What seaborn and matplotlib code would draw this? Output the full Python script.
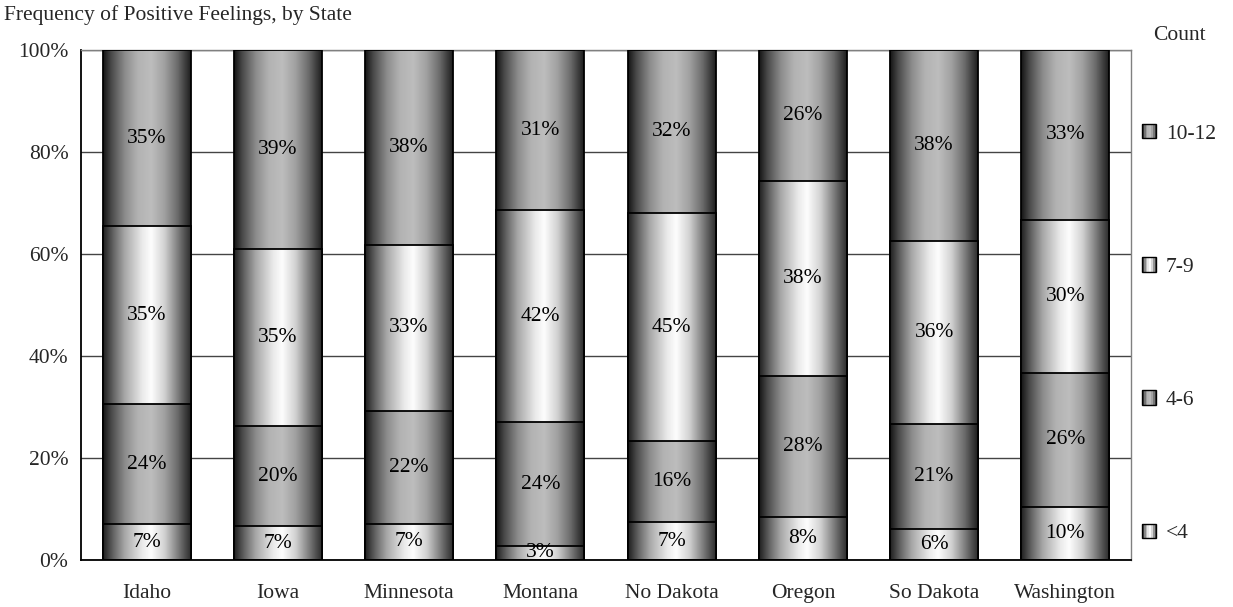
import numpy as np
import pandas as pd
import matplotlib
matplotlib.use("Agg")
import matplotlib.pyplot as plt
from matplotlib.patches import Rectangle, Patch
from matplotlib.legend_handler import HandlerBase
import seaborn as sns

# Share of respondents in each count band, per state (percent)
states = ["Idaho", "Iowa", "Minnesota", "Montana", "No Dakota", "Oregon", "So Dakota", "Washington"]
band_lt4 = [7.0, 6.6, 7.1, 2.8, 7.4, 8.4, 6.1, 10.4]
band_4_6 = [23.6, 19.7, 22.1, 24.2, 15.9, 27.7, 20.6, 26.3]
band_7_9 = [34.8, 34.6, 32.6, 41.6, 44.7, 38.2, 35.8, 30.0]
band_10_12 = [34.6, 39.1, 38.2, 31.4, 32.0, 25.7, 37.5, 33.3]
band_names = ["<4", "4-6", "7-9", "10-12"]
y_ticks = [0, 20, 40, 60, 80, 100]

bands = [band_lt4, band_4_6, band_7_9, band_10_12]

# Horizontal shading profiles (position across bar -> grey level)
DARK_X = [0.0, 0.1, 0.25, 0.4, 0.55, 0.7, 0.85, 0.95, 1.0]
DARK_V = [0.08, 0.3, 0.55, 0.7, 0.74, 0.63, 0.42, 0.22, 0.12]
LIGHT_X = [0.0, 0.12, 0.25, 0.45, 0.55, 0.7, 0.85, 0.95, 1.0]
LIGHT_V = [0.12, 0.4, 0.66, 0.92, 0.99, 0.82, 0.5, 0.28, 0.18]
profiles = [(LIGHT_X, LIGHT_V), (DARK_X, DARK_V), (LIGHT_X, LIGHT_V), (DARK_X, DARK_V)]

sns.set_style("white")
plt.rcParams["font.family"] = ["Liberation Serif", "DejaVu Serif"]
FS = 15.5

fig = plt.figure(figsize=(12.33, 6.07), dpi=100)
ax = fig.add_axes([81 / 1233, 47 / 607, 1050 / 1233, 510 / 607])

df = pd.DataFrame({"state": states})
cum = np.cumsum(np.array(bands), axis=0)

# Draw cumulative totals from the tallest down so each band shows as a segment
layers = []
for k in range(len(bands) - 1, -1, -1):
    df["total"] = cum[k]
    n0 = len(ax.patches)
    sns.barplot(data=df, x="state", y="total", order=states, color="0.5",
                width=0.67, ax=ax)
    layers.append((k, ax.patches[n0:]))

z = 3
for k, patches in layers:
    px, pv = profiles[k]
    grad = np.interp(np.linspace(0, 1, 256), px, pv)[None, :]
    for p in patches:
        x0, w, h = p.get_x(), p.get_width(), p.get_height()
        p.set_facecolor("none")
        p.set_edgecolor("black")
        p.set_linewidth(1.3)
        p.set_zorder(z + 1)
        im = ax.imshow(grad, extent=[x0, x0 + w, 0, h], aspect="auto",
                       cmap="gray", vmin=0, vmax=1, zorder=z,
                       interpolation="bilinear")
        im.set_clip_path(p)
    z += 2

# Segment labels
for i, st in enumerate(states):
    for k in range(len(bands)):
        lo = cum[k - 1][i] if k > 0 else 0.0
        hi = cum[k][i]
        ax.text(i, (lo + hi) / 2, f"{bands[k][i]:.0f}%", ha="center",
                va="center", fontsize=FS, color="black", zorder=20)

ax.set_xlim(-0.5, len(states) - 0.5)
ax.set_ylim(0, 100)
ax.set_aspect("auto")

# Axes styling
ax.set_yticks(y_ticks)
ax.set_yticklabels([f"{t}%" for t in y_ticks], fontsize=FS)
ax.yaxis.grid(True, color="#444444", linewidth=1.0, zorder=0)
ax.set_axisbelow(True)
ax.set_xticks(range(len(states)))
ax.set_xticklabels(states, fontsize=FS)
ax.set_xticks(np.arange(-0.5, len(states)), minor=True)
ax.tick_params(axis="x", which="major", length=0, pad=17)
ax.tick_params(axis="x", which="minor", length=7, width=1, color="black")
ax.tick_params(axis="y", length=6, width=1, color="black", pad=3)
ax.set_xlabel("")
ax.set_ylabel("")
for side in ["left", "bottom"]:
    ax.spines[side].set_color("black")
    ax.spines[side].set_linewidth(1.3)
ax.spines["right"].set_color("#808080")
ax.spines["top"].set_color("#808080")
ax.spines["right"].set_linewidth(1.0)
ax.spines["top"].set_linewidth(1.0)
ax.spines["bottom"].set_zorder(30)


class GradientSquare(HandlerBase):
    def __init__(self, px, pv):
        super().__init__()
        self.px, self.pv = px, pv

    def create_artists(self, legend, orig_handle, xdescent, ydescent,
                       width, height, fontsize, trans):
        n = 8
        side = height
        x0, y0 = -xdescent, -ydescent
        arts = []
        for j in range(n):
            g = float(np.interp((j + 0.5) / n, self.px, self.pv))
            arts.append(Rectangle((x0 + j * side / n, y0), side / n, side,
                                  facecolor=(g, g, g), edgecolor="none",
                                  transform=trans))
        arts.append(Rectangle((x0, y0), side, side, facecolor="none",
                              edgecolor="black", linewidth=1.0,
                              transform=trans))
        return arts


handles, hmap = [], {}
for k in range(len(bands) - 1, -1, -1):
    h = Patch(label=band_names[k])
    handles.append(h)
    hmap[h] = GradientSquare(*profiles[k])

fig.legend(handles=handles, handler_map=hmap, loc="upper left",
           bbox_to_anchor=(1142 / 1233, 1 - 124 / 607), frameon=False,
           fontsize=FS, handlelength=0.65, handleheight=0.65,
           handletextpad=0.45, labelspacing=5.27, borderpad=0,
           borderaxespad=0)

fig.text(1153 / 1233, 1 - 35 / 607, "Count", fontsize=FS, ha="left",
         va="center")
fig.text(4 / 1233, 1 - 15 / 607, "Frequency of Positive Feelings, by State",
         fontsize=FS, ha="left", va="center")

fig.savefig("out.png", dpi=100)
